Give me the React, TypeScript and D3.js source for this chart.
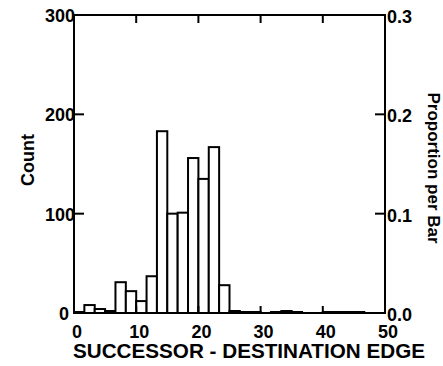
import * as d3 from 'd3';

// histogram: 30 bins over 0..50
const binCount = 30;
const domainMax = 50;
const counts = [1, 8, 4, 2, 31, 22, 12, 37, 183, 100, 101, 156, 135, 167, 28, 2, 1, 1, 0, 1, 2, 1, 0, 0, 1, 1, 1, 1, 0, 0];
const xTicks = [0, 10, 20, 30, 40, 50];
const countTicks = [0, 100, 200, 300];
const propTicks = [0, 0.1, 0.2, 0.3];
const total = 1000;

const W = 443;
const H = 366;
const margin = { top: 15, right: 58, bottom: 53, left: 74 };
const font = '"Liberation Sans", Arial, sans-serif';

export default function App() {
  const x = d3.scaleLinear().domain([0, domainMax]).range([margin.left, W - margin.right]);
  const y = d3.scaleLinear().domain([0, 300]).range([H - margin.bottom, margin.top]);
  const yp = d3.scaleLinear().domain([0, 300 / total]).range([H - margin.bottom, margin.top]);
  const bw = domainMax / binCount;
  const x0 = x(0), x1 = x(domainMax), y0 = y(0), y1 = y(300);

  return (
    <svg width={W} height={H} style={{ position: 'absolute', left: 0, top: 0, background: '#fff' }}>
      <g fill="#fff" stroke="#000" strokeWidth={2}>
        {counts.map((c, i) => (
          <rect key={i} x={x(i * bw)} y={y(c)} width={x(bw) - x(0)} height={y0 - y(c)} />
        ))}
      </g>
      <rect x={x0} y={y1} width={x1 - x0} height={y0 - y1} fill="none" stroke="#000" strokeWidth={2} />
      <g stroke="#000" strokeWidth={2}>
        {xTicks.slice(1, -1).map(t => (
          <g key={t}>
            <line x1={x(t)} x2={x(t)} y1={y1} y2={y1 + 8} />
            <line x1={x(t)} x2={x(t)} y1={y0} y2={y0 - 7} />
          </g>
        ))}
        {countTicks.slice(1, -1).map(t => (
          <line key={t} x1={x0} x2={x0 + 10} y1={y(t)} y2={y(t)} />
        ))}
        {propTicks.slice(1, -1).map(t => (
          <line key={t} x1={x1 - 10} x2={x1} y1={yp(t)} y2={yp(t)} />
        ))}
      </g>
      <g fontFamily={font} fontWeight="bold" fontSize={18} fill="#000">
        {xTicks.map(t => (
          <text key={t} x={x(t) + 3} y={338} textAnchor="middle">{t}</text>
        ))}
        {countTicks.map(t => (
          <text key={t} x={t === 0 ? x0 - 5 : x0 + 1} y={y(t) + 7} textAnchor="end">{t}</text>
        ))}
        {propTicks.map(t => (
          <text key={t} x={x1 + 2} y={yp(t) + 8} textAnchor="start">{t.toFixed(1)}</text>
        ))}
        <text x={249} y={358} textAnchor="middle" fontSize={21} textLength={352} lengthAdjust="spacingAndGlyphs">
          SUCCESSOR - DESTINATION EDGE
        </text>
        <text transform="translate(34,160) rotate(-90)" textAnchor="middle">Count</text>
        <text transform="translate(428,168) rotate(90)" textAnchor="middle" fontSize={17}>Proportion per Bar</text>
      </g>
    </svg>
  );
}
